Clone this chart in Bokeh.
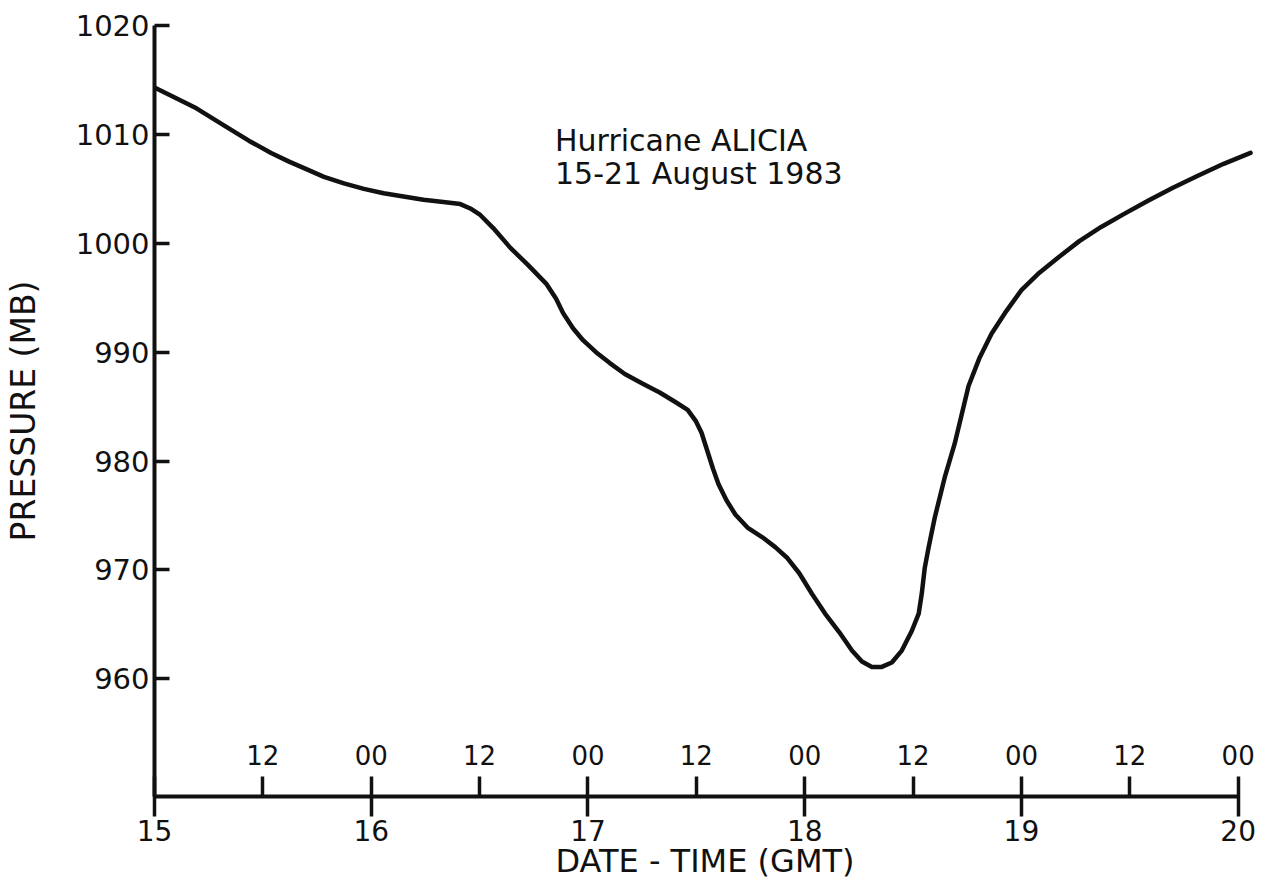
from bokeh.plotting import figure
from bokeh.models import Range1d, FixedTicker, Label, ColumnDataSource
from bokeh.embed import file_html
from bokeh.resources import INLINE
from bokeh.core.properties import value

# ---- data (day of August 1983, GMT; pressure in mb) ----
days = [15.000, 15.184, 15.322, 15.437, 15.538, 15.621, 15.690, 15.782, 15.874,
        15.966, 16.057, 16.149, 16.241, 16.333, 16.411, 16.457, 16.503, 16.563,
        16.641, 16.724, 16.807,
        16.853, 16.885, 16.931, 16.977, 17.037, 17.101, 17.170, 17.253, 17.331,
        17.405, 17.460, 17.497, 17.524, 17.545, 17.577, 17.602, 17.639, 17.680,
        17.736, 17.805, 17.864, 17.920, 17.975, 18.034, 18.094, 18.159, 18.218,
        18.264, 18.310, 18.356, 18.402, 18.448, 18.494, 18.526, 18.540, 18.554,
        18.572, 18.600, 18.646, 18.692,
        18.756, 18.807, 18.862, 18.931, 19.000, 19.083, 19.170, 19.267, 19.368,
        19.474, 19.584, 19.699, 19.814, 19.933, 20.057]
pressure = [1014.3, 1012.5, 1010.8, 1009.4, 1008.3, 1007.5, 1006.9, 1006.1, 1005.5,
            1005.0, 1004.6, 1004.3, 1004.0, 1003.8, 1003.6, 1003.2, 1002.6, 1001.4,
            999.6, 998.0, 996.3,
            994.9, 993.6, 992.2, 991.1, 990.0, 989.0, 988.0, 987.1, 986.3,
            985.4, 984.7, 983.7, 982.6, 981.3, 979.3, 977.9, 976.4, 975.1,
            973.9, 973.0, 972.1, 971.1, 969.7, 967.8, 966.0, 964.3, 962.6,
            961.6, 961.1, 961.1, 961.5, 962.6, 964.4, 966.0, 967.8, 970.2,
            972.1, 974.8, 978.5, 981.6,
            986.9, 989.5, 991.7, 993.8, 995.7, 997.3, 998.7, 1000.2, 1001.5,
            1002.7, 1003.9, 1005.1, 1006.2, 1007.3, 1008.3]

y_ticks = [960, 970, 980, 990, 1000, 1010, 1020]
day_ticks = [15, 16, 17, 18, 19, 20]
day_labels = ["15", "16", "17", "18", "19", "20"]
half_day_ticks = [15.5, 16.5, 17.5, 18.5, 19.5]
hour_ticks = [15.5, 16, 16.5, 17, 17.5, 18, 18.5, 19, 19.5, 20]
hour_labels = ["12", "00", "12", "00", "12", "00", "12", "00", "12", "00"]

title_lines = ["Hurricane ALICIA", "15-21 August 1983"]
x_title = "DATE - TIME (GMT)"
y_title = "PRESSURE (MB)"

FONT = "DejaVu Sans"
INK = "#111111"

Y0, Y1 = 949.2, 1020
X0, X1 = 15, 20.08

p = figure(width=1265, height=888, output_backend="svg", toolbar_location=None,
           title=None, x_range=Range1d(X0, X1), y_range=Range1d(Y0, Y1),
           min_border_left=150, min_border_right=10, min_border_top=25,
           min_border_bottom=92, background_fill_color="white",
           border_fill_color="white")
p.grid.visible = False
p.outline_line_color = None

# x axis
xa = p.xaxis[0]
xa.ticker = FixedTicker(ticks=day_ticks, minor_ticks=half_day_ticks)
xa.major_label_overrides = {d: l for d, l in zip(day_ticks, day_labels)}
xa.bounds = (15, 20)
xa.axis_line_width = 4
xa.axis_line_color = INK
xa.major_tick_line_width = 3.5
xa.major_tick_line_color = INK
xa.minor_tick_line_width = 3.5
xa.minor_tick_line_color = INK
xa.major_tick_in = 20
xa.major_tick_out = 20
xa.minor_tick_in = 20
xa.minor_tick_out = 0
xa.major_label_standoff = 3
xa.major_label_text_font = FONT
xa.major_label_text_font_size = "28px"
xa.major_label_text_color = INK
xa.axis_label = x_title
xa.axis_label_text_font = FONT
xa.axis_label_text_font_size = "32px"
xa.axis_label_text_font_style = "normal"
xa.axis_label_text_color = INK
xa.axis_label_standoff = -2

# y axis
ya = p.yaxis[0]
ya.ticker = FixedTicker(ticks=y_ticks, minor_ticks=[])
ya.axis_line_width = 4
ya.axis_line_color = INK
ya.major_tick_line_width = 3.5
ya.major_tick_line_color = INK
ya.major_tick_in = 15
ya.major_tick_out = 0
ya.minor_tick_in = 0
ya.minor_tick_out = 0
ya.major_label_standoff = 5
ya.major_label_text_font = FONT
ya.major_label_text_font_size = "29px"
ya.major_label_text_color = INK
ya.axis_label = y_title
ya.axis_label_text_font = FONT
ya.axis_label_text_font_size = "33px"
ya.axis_label_text_font_style = "normal"
ya.axis_label_text_color = INK
ya.axis_label_standoff = 30

# pressure curve
src = ColumnDataSource(dict(day=days, mb=pressure))
p.line("day", "mb", source=src, line_width=4.5, line_color=INK,
       line_join="round", line_cap="round")

# hour labels above the time axis
hsrc = ColumnDataSource(dict(x=hour_ticks, y=[Y0] * len(hour_ticks), t=hour_labels))
p.text("x", "y", text="t", source=hsrc, y_offset=-42, text_align="center",
       text_baseline="alphabetic", text_font=value(FONT),
       text_font_size="26px", text_color=INK)

# title block
p.add_layout(Label(x=16.848, y=1009.4, text=title_lines[0], text_font=FONT,
                   text_font_size="30px", text_color=INK,
                   text_baseline="alphabetic", text_align="left"))
p.add_layout(Label(x=16.848, y=1006.4, text=title_lines[1], text_font=FONT,
                   text_font_size="30px", text_color=INK,
                   text_baseline="alphabetic", text_align="left"))

open("out.html", "w").write(file_html(p, INLINE))
